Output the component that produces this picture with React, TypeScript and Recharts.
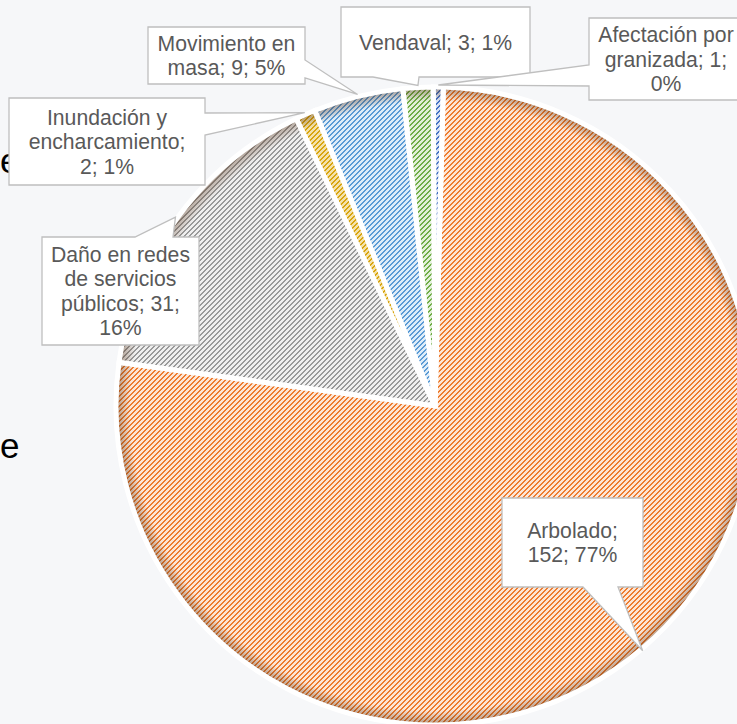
import { Cell, Pie, PieChart } from "recharts";

const categories = [
  "Arbolado",
  "Daño en redes de servicios públicos",
  "Inundación y encharcamiento",
  "Movimiento en masa",
  "Vendaval",
  "Afectación por granizada",
];
const eventCounts = [152, 31, 2, 9, 3, 1];
const percentLabels = ["77%", "16%", "1%", "5%", "1%", "0%"];

const data = categories.map((name, i) => ({
  name,
  value: eventCounts[i],
  pct: percentLabels[i],
}));

// hatch colours per slice: foreground stripes on a light tint
const sliceStyles = [
  { id: "hatchArbolado", fg: "#ed7d31", bg: "#fde6d6" },
  { id: "hatchDano", fg: "#9a9a9a", bg: "#efefef" },
  { id: "hatchInundacion", fg: "#d9a50f", bg: "#f3e2ad" },
  { id: "hatchMovimiento", fg: "#5b9bd5", bg: "#deecf8" },
  { id: "hatchVendaval", fg: "#70ad47", bg: "#e2f0d9" },
  { id: "hatchGranizada", fg: "#4472c4", bg: "#d9e2f3" },
];

// one 5x5 tile of an upward diagonal: two pixels per row
const hatchPixels = [0, 1, 2, 3, 4].flatMap((r) => [
  { x: 4 - r, y: r },
  { x: (5 - r) % 5, y: r },
]);

type Side = "top" | "bottom" | "left" | "right";

// callout boxes: box rect, side the pointer leaves from, and words per line
const callouts: Record<
  string,
  { x: number; y: number; w: number; h: number; side: Side; a: number; b: number; words: number[] }
> = {
  Arbolado: { x: 502, y: 498, w: 141, h: 89, side: "bottom", a: 583, b: 618, words: [1, 2] },
  "Daño en redes de servicios públicos": {
    x: 42, y: 237, w: 157, h: 108, side: "top", a: 135, b: 173, words: [3, 2, 2, 1],
  },
  "Inundación y encharcamiento": {
    x: 9, y: 98, w: 196, h: 87, side: "right", a: 113, b: 135, words: [2, 1, 2],
  },
  "Movimiento en masa": { x: 148, y: 27, w: 157, h: 57, side: "right", a: 60, b: 78, words: [2, 3] },
  Vendaval: { x: 341, y: 7, w: 189, h: 70, side: "bottom", a: 373, b: 419, words: [3] },
  "Afectación por granizada": {
    x: 589, y: 18, w: 154, h: 82, side: "left", a: 65, b: 86, words: [2, 2, 1],
  },
};

const CX = 435;
const CY = 406;
const R = 319;
const RADIAN = Math.PI / 180;
const LINE_H = 24.5;

function calloutPath(c: (typeof callouts)[string], tx: number, ty: number) {
  const { x, y, w, h, a, b } = c;
  switch (c.side) {
    case "right":
      return `M${x},${y}H${x + w}V${a}L${tx},${ty}L${x + w},${b}V${y + h}H${x}Z`;
    case "left":
      return `M${x},${y}H${x + w}V${y + h}H${x}V${b}L${tx},${ty}L${x},${a}Z`;
    case "top":
      return `M${x},${y}H${a}L${tx},${ty}L${b},${y}H${x + w}V${y + h}H${x}Z`;
    default:
      return `M${x},${y}H${x + w}V${y + h}H${b}L${tx},${ty}L${a},${y + h}H${x}Z`;
  }
}

function renderCallout(props: any) {
  const { cx, cy, midAngle, outerRadius, name, value, payload } = props;
  const key = name ?? payload?.name;
  const c = callouts[key];
  if (!c) return null;
  const tx = cx + (outerRadius + 2) * Math.cos(-midAngle * RADIAN);
  const ty = cy + (outerRadius + 2) * Math.sin(-midAngle * RADIAN);

  const words = `${key}; ${value}; ${payload?.pct ?? ""}`.split(" ");
  const lines: string[] = [];
  let pos = 0;
  c.words.forEach((n) => {
    lines.push(words.slice(pos, pos + n).join(" "));
    pos += n;
  });

  const midY = c.y + c.h / 2;
  return (
    <g key={key}>
      <path d={calloutPath(c, tx, ty)} fill="#ffffff" stroke="#bfbfbf" strokeWidth={1.3} />
      {lines.map((line, i) => (
        <text
          key={i}
          x={c.x + c.w / 2}
          y={midY + (i - (lines.length - 1) / 2) * LINE_H}
          dy="0.36em"
          textAnchor="middle"
          fontSize={21.2}
          fill="#595959"
          fontFamily="'Liberation Sans', Arial, sans-serif"
        >
          {line}
        </text>
      ))}
    </g>
  );
}

export default function App() {
  return (
    <div
      style={{
        position: "fixed",
        left: 0,
        top: 0,
        width: 737,
        height: 724,
        background: "#f6f7f9",
        overflow: "hidden",
      }}
    >
      <PieChart width={737} height={724} margin={{ top: 0, right: 0, bottom: 0, left: 0 }}>
        <defs>
          {sliceStyles.map((s) => (
            <pattern key={s.id} id={s.id} width={5} height={5} patternUnits="userSpaceOnUse">
              <rect width={5} height={5} fill={s.bg} />
              {hatchPixels.map((p, k) => (
                <rect key={k} x={p.x} y={p.y} width={1} height={1} fill={s.fg} />
              ))}
            </pattern>
          ))}
          <radialGradient id="rimShade" gradientUnits="userSpaceOnUse" cx={CX} cy={CY} r={R}>
            <stop offset="0.955" stopColor="#4a2408" stopOpacity={0} />
            <stop offset="1" stopColor="#4a2408" stopOpacity={0.42} />
          </radialGradient>
        </defs>
        <text x={0} y={173} fontSize={35} fill="#000" fontFamily="'Liberation Sans', Arial">
          e
        </text>
        <text x={0} y={458} fontSize={35} fill="#000" fontFamily="'Liberation Sans', Arial">
          e
        </text>
        <Pie
          data={data}
          dataKey="value"
          nameKey="name"
          cx={CX}
          cy={CY}
          outerRadius={R}
          startAngle={88.5}
          endAngle={-271.5}
          stroke="none"
          isAnimationActive={false}
          labelLine={false}
        >
          {data.map((d, i) => (
            <Cell key={d.name} fill={`url(#${sliceStyles[i].id})`} />
          ))}
        </Pie>
        <Pie
          data={data}
          dataKey="value"
          nameKey="name"
          cx={CX}
          cy={CY}
          outerRadius={R}
          startAngle={88.5}
          endAngle={-271.5}
          fill="url(#rimShade)"
          stroke="none"
          isAnimationActive={false}
          labelLine={false}
        >
          {data.map((d) => (
            <Cell key={d.name} fill="url(#rimShade)" stroke="none" />
          ))}
        </Pie>
        <Pie
          data={data}
          dataKey="value"
          nameKey="name"
          cx={CX}
          cy={CY}
          outerRadius={R}
          startAngle={88.5}
          endAngle={-271.5}
          fill="none"
          stroke="#ffffff"
          strokeWidth={5}
          isAnimationActive={false}
          labelLine={false}
          label={renderCallout}
        >
          {data.map((d) => (
            <Cell key={d.name} fill="none" stroke="#ffffff" strokeWidth={5} />
          ))}
        </Pie>
      </PieChart>
    </div>
  );
}
